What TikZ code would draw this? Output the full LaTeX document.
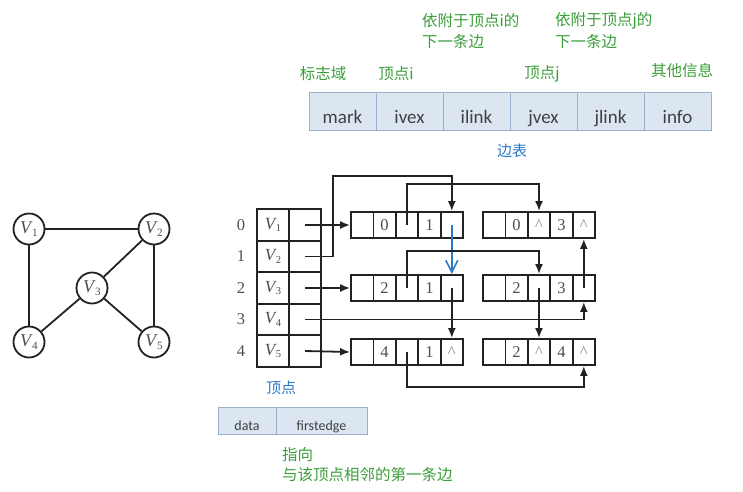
\documentclass[tikz,border=0pt]{standalone}
\usepackage{fontspec}
\setmainfont{Liberation Serif}
\setsansfont{Carlito}
\newfontfamily\cjk{Noto Sans CJK SC}
\usetikzlibrary{arrows.meta}
\definecolor{ink}{HTML}{222222}
\definecolor{lblgreen}{HTML}{3A9E3A}
\definecolor{lblblue}{HTML}{2A78C8}
\definecolor{fieldfill}{HTML}{DCE6F1}
\definecolor{fieldline}{HTML}{9BB0CC}
\definecolor{fieldtext}{HTML}{404040}
\newcommand\caret{\textcolor{ink!55}{\textasciicircum}}
% italic V with an upright, lowered index
\newcommand\vname[1]{\textit{V}\kern-0.8pt\raisebox{-0.35ex}{\scalebox{0.62}{#1}}}
% one edge record: name, left x, centre y, ivex, ilink, jvex, jlink
\newcommand\edgerec[7]{%
  \foreach \k/\t in {1/{},2/{#4},3/{#5},4/{#6},5/{#7}}
    \node[cell] (#1-\k) at ({#2+(\k-0.5)*22.4},#3) {\t};}
\begin{document}
\begin{tikzpicture}[x=1pt,y=-1pt,
  vtx/.style={circle,draw=ink,line width=1.8pt,minimum size=31pt,inner sep=0pt,
    text=ink!80,font=\fontsize{18}{18}\selectfont},
  gedge/.style={ink,line width=1.8pt},
  cell/.style={draw=ink,line width=1.8pt,minimum width=22.4pt,minimum height=26pt,
    inner sep=0pt,text=ink!80,font=\fontsize{16.5}{16.5}\selectfont},
  vcell/.style={draw=ink,line width=1.8pt,minimum width=32pt,minimum height=31.5pt,
    inner sep=0pt,text=ink!80,font=\fontsize{17}{17}\selectfont},
  idx/.style={text=ink!80,font=\fontsize{16.5}{16.5}\selectfont},
  arr/.style={ink,line width=1.8pt,-{Latex[length=10pt,width=8pt]}},
  tfield/.style={draw=fieldline,fill=fieldfill,line width=1pt,minimum width=67pt,
    minimum height=38pt,inner xsep=0pt,inner ysep=6pt,text height=25pt,text depth=1pt,
    text=fieldtext,font=\sffamily\fontsize{19}{19}\selectfont},
  bfield/.style={draw=fieldline,fill=fieldfill,line width=1pt,minimum height=27pt,
    inner xsep=0pt,inner ysep=3pt,text height=20pt,text depth=1pt,
    text=fieldtext,font=\sffamily\fontsize{14}{14}\selectfont},
  note/.style={text=lblgreen,inner sep=0pt,font=\cjk\fontsize{15.5}{15.5}\selectfont},
  caption/.style={text=lblblue,inner sep=0pt,font=\cjk\fontsize{15}{15}\selectfont}]
\useasboundingbox (0,0) rectangle (743,491);

% ---------- the undirected graph ----------
\node[vtx] (g1) at (29,229) {\vname{1}};
\node[vtx] (g2) at (154,229) {\vname{2}};
\node[vtx] (g3) at (92,288) {\vname{3}};
\node[vtx] (g4) at (29,342) {\vname{4}};
\node[vtx] (g5) at (154,342) {\vname{5}};
\draw[gedge] (g1) -- (g2);
\draw[gedge] (g1) -- (g4);
\draw[gedge] (g2) -- (g3);
\draw[gedge] (g2) -- (g5);
\draw[gedge] (g3) -- (g4);
\draw[gedge] (g3) -- (g5);

% ---------- edge record layout ----------
\foreach \t [count=\i] in {mark,ivex,ilink,jvex,jlink,info}
  \node[tfield] (f\i) at ({309+67*(\i-0.5)},111) {\t};
\node[note] (nmark) at (323,74) {标志域};
\node[note] (niv) at (396,74) {顶点i};
\node[note] (njv) at (542,74) {顶点j};
\node[note] (ninfo) at (682,71) {其他信息};
\node[note,anchor=west] (nil1) at (422,21) {依附于顶点i的};
\node[note,anchor=west] (nil2) at (422,42) {下一条边};
\node[note,anchor=west] (njl1) at (555,21) {依附于顶点j的};
\node[note,anchor=west] (njl2) at (555,42) {下一条边};
\node[caption] (cedge) at (512,151) {边表};

% ---------- vertex table ----------
\foreach \i in {1,...,5}{
  \pgfmathsetmacro\yy{225+(\i-1)*31.5}
  \pgfmathtruncatemacro\ii{\i-1}
  \node[vcell] (vn\i) at (273,\yy) {\vname{\i}};
  \node[vcell] (vp\i) at (305,\yy) {};
  \node[idx] (ix\i) at (241,\yy) {\ii};
}

% ---------- edge records ----------
\edgerec{A}{351}{225}{0}{}{1}{}
\edgerec{B}{483}{225}{0}{\caret}{3}{\caret}
\edgerec{C}{351}{288}{2}{}{1}{}
\edgerec{D}{483}{288}{2}{}{3}{}
\edgerec{E}{351}{352}{4}{}{1}{\caret}
\edgerec{F}{483}{352}{2}{\caret}{4}{\caret}

% ---------- pointers ----------
\draw[arr] (vp1.center) -- (A-1.west);
\draw[arr] (vp2.center) -| (333,176) -| (A-5.north);
\draw[arr] (vp3.center) -- (C-1.west);
\draw[arr] (vp4.center) -| (D-5.south);
\draw[arr] (vp5.center) -- (E-1.west);
\draw[arr] (A-3.center) |- (470,184) -| (B-3.north);
\draw[lblblue,line width=1.8pt,-{Straight Barb[length=12pt,width=12pt,line width=1.6pt]}]
  (A-5.center) -- (C-5.north);
\draw[arr] (C-3.center) |- (470,251) -| (D-3.north);
\draw[arr] (C-5.center) -- (E-5.north);
\draw[arr] (D-3.center) -- (F-3.north);
\draw[arr] (D-5.center) -- (B-5.south);
\draw[arr] (E-3.center) |- (470,387) -| (F-5.south);

% ---------- vertex record layout ----------
\node[caption] (cvtx) at (281,388) {顶点};
\node[bfield,minimum width=58pt] (bdata) at (247,420.5) {data};
\node[bfield,minimum width=91pt] (bfirst) at (321.5,420.5) {firstedge};
\node[note,anchor=west] (nfe1) at (282,455) {指向};
\node[note,anchor=west] (nfe2) at (282,475) {与该顶点相邻的第一条边};
\end{tikzpicture}
\end{document}
